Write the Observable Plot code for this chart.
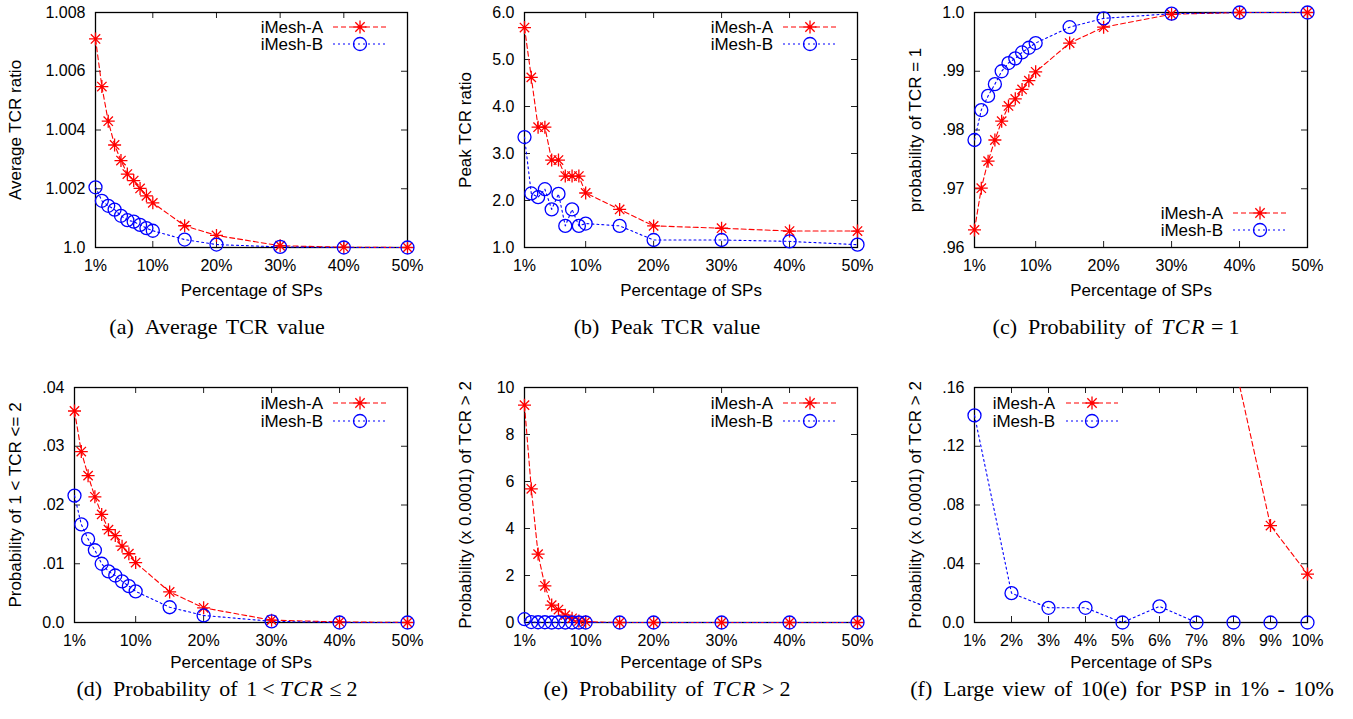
<!DOCTYPE html>
<html><head><meta charset="utf-8">
<script src="https://cdn.jsdelivr.net/npm/d3@7"></script>
<script src="https://cdn.jsdelivr.net/npm/@observablehq/plot@0.6"></script>
<style>
body{margin:0;background:#fff;}
#root{position:relative;width:1353px;height:719px;overflow:hidden;background:#fff}
.panel{position:absolute}
.cap{position:absolute;font-family:"Liberation Serif","Times New Roman",serif;font-size:22px;white-space:nowrap;transform:translateX(-50%);line-height:24px;word-spacing:3px;color:#000}
.cap i{font-style:italic;letter-spacing:1.5px}
.cap .rel{margin:0 5px}
</style></head><body><div id="root"></div>
<script>
// ---- data ----
const pctX = [1,2,3,4,5,6,7,8,9,10,15,20,30,40,50];
const avgA = [1.0071,1.00548,1.0043,1.00349,1.00296,1.0025,1.00228,1.00201,1.00176,1.00152,1.00074,1.00041,1.00006,1.00001,1.0];
const avgB = [1.00205,1.00159,1.00142,1.00129,1.00108,1.00093,1.00088,1.00077,1.00066,1.00057,1.00027,1.0001,1.00002,1.0,1.0];
const peakA = [5.68,4.62,3.56,3.56,2.86,2.86,2.52,2.52,2.52,2.16,1.81,1.46,1.41,1.35,1.35];
const peakB = [3.35,2.15,2.07,2.24,1.81,2.14,1.46,1.81,1.46,1.51,1.46,1.16,1.16,1.13,1.06];
const p1A = [0.9630,0.9701,0.9747,0.9783,0.9815,0.9841,0.9853,0.9869,0.9884,0.9899,0.9948,0.9975,0.9997,1.0,1.0];
const p1B = [0.9783,0.9834,0.9858,0.9878,0.9900,0.9914,0.9922,0.9932,0.9940,0.9948,0.9975,0.9990,0.9998,1.0,1.0];
const pMidA = [0.0360,0.0291,0.0250,0.0214,0.0184,0.0158,0.0148,0.0130,0.0117,0.0102,0.0052,0.0025,0.0004,0.0001,0.0];
const pMidB = [0.0216,0.0167,0.0142,0.0123,0.0100,0.0087,0.0080,0.0070,0.0062,0.0053,0.0026,0.0012,0.0002,0.0,0.0];
const pHighA = [9.25,5.69,2.91,1.56,0.74,0.55,0.31,0.18,0.066,0.033,0,0,0,0,0];
const pHighB = [0.141,0.02,0.01,0.01,0,0.011,0,0,0,0,0,0,0,0,0];

const xTicksWide = [1,10,20,30,40,50];
const xLabelsWide = ["1%","10%","20%","30%","40%","50%"];
const xTicksZoom = [1,2,3,4,5,6,7,8,9,10];
const xLabelsZoom = ["1%","2%","3%","4%","5%","6%","7%","8%","9%","10%"];

const yTicksA = [1.0,1.002,1.004,1.006,1.008], yLabelsA = ["1.0","1.002","1.004","1.006","1.008"];
const yTicksB = [1,2,3,4,5,6], yLabelsB = ["1.0","2.0","3.0","4.0","5.0","6.0"];
const yTicksC = [0.96,0.97,0.98,0.99,1.0], yLabelsC = [".96",".97",".98",".99","1.0"];
const yTicksD = [0,0.01,0.02,0.03,0.04], yLabelsD = ["0.0",".01",".02",".03",".04"];
const yTicksE = [0,2,4,6,8,10], yLabelsE = ["0","2","4","6","8","10"];
const yTicksF = [0,0.04,0.08,0.12,0.16], yLabelsF = ["0.0",".04",".08",".12",".16"];

const seriesNames = ["iMesh-A","iMesh-B"];
const xTitle = "Percentage of SPs";

// ---- drawing ----
const star = {draw(ctx, size){ const r = Math.sqrt(size/Math.PI), d = r*0.72;
  ctx.moveTo(-r,0); ctx.lineTo(r,0); ctx.moveTo(0,-r); ctx.lineTo(0,r);
  ctx.moveTo(-d,-d); ctx.lineTo(d,d); ctx.moveTo(-d,d); ctx.lineTo(d,-d);}};
const RED = "#ff0000", BLUE = "#0000ff";
const DASH_A = "5,3", DASH_B = "2,3";
const R = 6.5;

const root = document.getElementById("root");

function rows(xs, ys){ return xs.map((x,i)=>({x, y: ys[i]})); }

function makePanel(c){
  const pw = c.width - c.ml - c.mr, ph = c.height - c.mt - c.mb;
  const xFmt = new Map(c.xTicks.map((t,i)=>[t, c.xLabels[i]]));
  const yFmt = new Map(c.yTicks.map((t,i)=>[t, c.yLabels[i]]));
  const rA = rows(c.xs, c.ya), rB = rows(c.xs, c.yb);
  const inRange = d => d.y >= c.yDomain[0] && d.y <= c.yDomain[1];
  const svg = Plot.plot({
    width: c.width, height: c.height,
    marginTop: c.mt, marginRight: c.mr, marginBottom: c.mb, marginLeft: c.ml,
    x: {domain: c.xDomain}, y: {domain: c.yDomain},
    style: {fontFamily: '"Liberation Sans", Arial, sans-serif', fontSize: "16px", color: "#000", background: "transparent", overflow: "visible"},
    marks: [
      Plot.axisX(c.xTicks, {tickSize: 0, tickPadding: 12, tickFormat: d => xFmt.get(d), label: null, fontSize: 16}),
      Plot.axisY(c.yTicks, {tickSize: 0, tickPadding: 10, tickFormat: d => yFmt.get(d), label: null, fontSize: 16}),
      Plot.tickX(c.xTicks, {x: d=>d, insetTop: ph - 6, stroke: "#222"}),
      Plot.tickX(c.xTicks, {x: d=>d, insetBottom: ph - 6, stroke: "#222"}),
      Plot.tickY(c.yTicks, {y: d=>d, insetRight: pw - 6, stroke: "#222"}),
      Plot.tickY(c.yTicks, {y: d=>d, insetLeft: pw - 6, stroke: "#222"}),
      Plot.frame({stroke: "#000", strokeWidth: 1.3}),
      Plot.line(rA, {x: "x", y: "y", stroke: RED, strokeWidth: 1.1, strokeDasharray: DASH_A, clip: c.clip}),
      Plot.line(rB, {x: "x", y: "y", stroke: BLUE, strokeWidth: 1.1, strokeDasharray: DASH_B, clip: c.clip}),
      Plot.dot(rA, {x: "x", y: "y", filter: inRange, symbol: star, r: R, stroke: RED, fill: "none", strokeWidth: 1.3}),
      Plot.dot(rB, {x: "x", y: "y", filter: inRange, symbol: "circle", r: R, stroke: BLUE, fill: "none", strokeWidth: 1.3}),
      Plot.text([c.ylab], {text: d=>d, frameAnchor: "left", textAnchor: "middle", lineAnchor: "middle", rotate: -90, dx: -(c.ml - 15), fontSize: 17}),
      Plot.text([xTitle], {text: d=>d, frameAnchor: "bottom", textAnchor: "middle", lineAnchor: "middle", dy: c.xlabDy, fontSize: 17})
    ]
  });
  // legend
  const L = c.legend;
  const g = d3.select(svg).append("g").attr("font-family", '"Liberation Sans", Arial, sans-serif').attr("font-size", 17);
  [[seriesNames[0], L.yA, RED, DASH_A, star], [seriesNames[1], L.yB, BLUE, DASH_B, d3.symbolCircle]].forEach(([name, y, col, dash, sym]) => {
    g.append("text").attr("x", L.tx).attr("y", y).attr("dy", "0.35em").attr("text-anchor", "end").attr("fill", "#000").text(name);
    g.append("line").attr("x1", L.x1).attr("x2", L.x2).attr("y1", y).attr("y2", y).attr("stroke", col).attr("stroke-width", 1.1).attr("stroke-dasharray", dash);
    g.append("path").attr("transform", `translate(${L.mx},${y})`).attr("d", d3.symbol(sym, Math.PI*R*R)()).attr("fill", "none").attr("stroke", col).attr("stroke-width", 1.3);
  });
  svg.classList.add("panel");
  svg.style.left = c.left + "px";
  svg.style.top = c.top + "px";
  svg.style.position = "absolute";
  root.appendChild(svg);
}

const legTR = {tx: 323, x1: 333, x2: 387, mx: 360, yA: 27, yB: 44};
const legTR2 = {tx: 323, x1: 333, x2: 387, mx: 360, yA: 33, yB: 51};
const legBR = {tx: 323, x1: 333, x2: 387, mx: 360, yA: 213, yB: 230};
const legTL = {tx: 155, x1: 166, x2: 218, mx: 192, yA: 33, yB: 51};

const rowTop = {top: 0, height: 300, mt: 12, mb: 53, xlabDy: 43};
const rowBot = {top: 370, height: 300, mt: 17, mb: 48, xlabDy: 40};

makePanel({...rowTop, left: 0, width: 450, ml: 95, mr: 43, xs: pctX, ya: avgA, yb: avgB, xDomain: [1,50], xTicks: xTicksWide, xLabels: xLabelsWide, yDomain: [1.0,1.008], yTicks: yTicksA, yLabels: yLabelsA, ylab: "Average TCR ratio", legend: legTR, clip: false});
makePanel({...rowTop, left: 450, width: 450, ml: 74, mr: 43, xs: pctX, ya: peakA, yb: peakB, xDomain: [1,50], xTicks: xTicksWide, xLabels: xLabelsWide, yDomain: [1,6], yTicks: yTicksB, yLabels: yLabelsB, ylab: "Peak TCR ratio", legend: legTR, clip: false});
makePanel({...rowTop, left: 900, width: 453, ml: 74, mr: 46, xs: pctX, ya: p1A, yb: p1B, xDomain: [1,50], xTicks: xTicksWide, xLabels: xLabelsWide, yDomain: [0.96,1.0], yTicks: yTicksC, yLabels: yLabelsC, ylab: "probability of TCR = 1", legend: legBR, clip: false});
makePanel({...rowBot, left: 0, width: 450, ml: 74, mr: 43, xs: pctX, ya: pMidA, yb: pMidB, xDomain: [1,50], xTicks: xTicksWide, xLabels: xLabelsWide, yDomain: [0,0.04], yTicks: yTicksD, yLabels: yLabelsD, ylab: "Probability of 1 < TCR <= 2", legend: legTR2, clip: false});
makePanel({...rowBot, left: 450, width: 450, ml: 74, mr: 43, xs: pctX, ya: pHighA, yb: pHighB, xDomain: [1,50], xTicks: xTicksWide, xLabels: xLabelsWide, yDomain: [0,10], yTicks: yTicksE, yLabels: yLabelsE, ylab: "Probability (x 0.0001) of TCR > 2", legend: legTR2, clip: false});
makePanel({...rowBot, left: 900, width: 453, ml: 74, mr: 46, xs: pctX.slice(0,10), ya: pHighA.slice(0,10), yb: pHighB.slice(0,10), xDomain: [1,10], xTicks: xTicksZoom, xLabels: xLabelsZoom, yDomain: [0,0.16], yTicks: yTicksF, yLabels: yLabelsF, ylab: "Probability (x 0.0001) of TCR > 2", legend: legTL, clip: true});

// captions
const captions = [
  [217, 315, "(a)&ensp;Average TCR value"],
  [667, 315, "(b)&ensp;Peak TCR value"],
  [1116, 315, "(c)&ensp;Probability of <i>TCR</i><span class='rel'>=</span>1"],
  [217, 677, "(d)&ensp;Probability of 1<span class='rel'>&lt;</span><i>TCR</i><span class='rel'>≤</span>2"],
  [667, 677, "(e)&ensp;Probability of <i>TCR</i><span class='rel'>&gt;</span>2"],
  [1122, 677, "(f)&ensp;Large view of 10(e) for PSP in 1% - 10%"]
];
captions.forEach(([x, y, html]) => {
  const d = document.createElement("div");
  d.className = "cap"; d.style.left = x + "px"; d.style.top = y + "px"; d.innerHTML = html;
  root.appendChild(d);
});
</script></body></html>
